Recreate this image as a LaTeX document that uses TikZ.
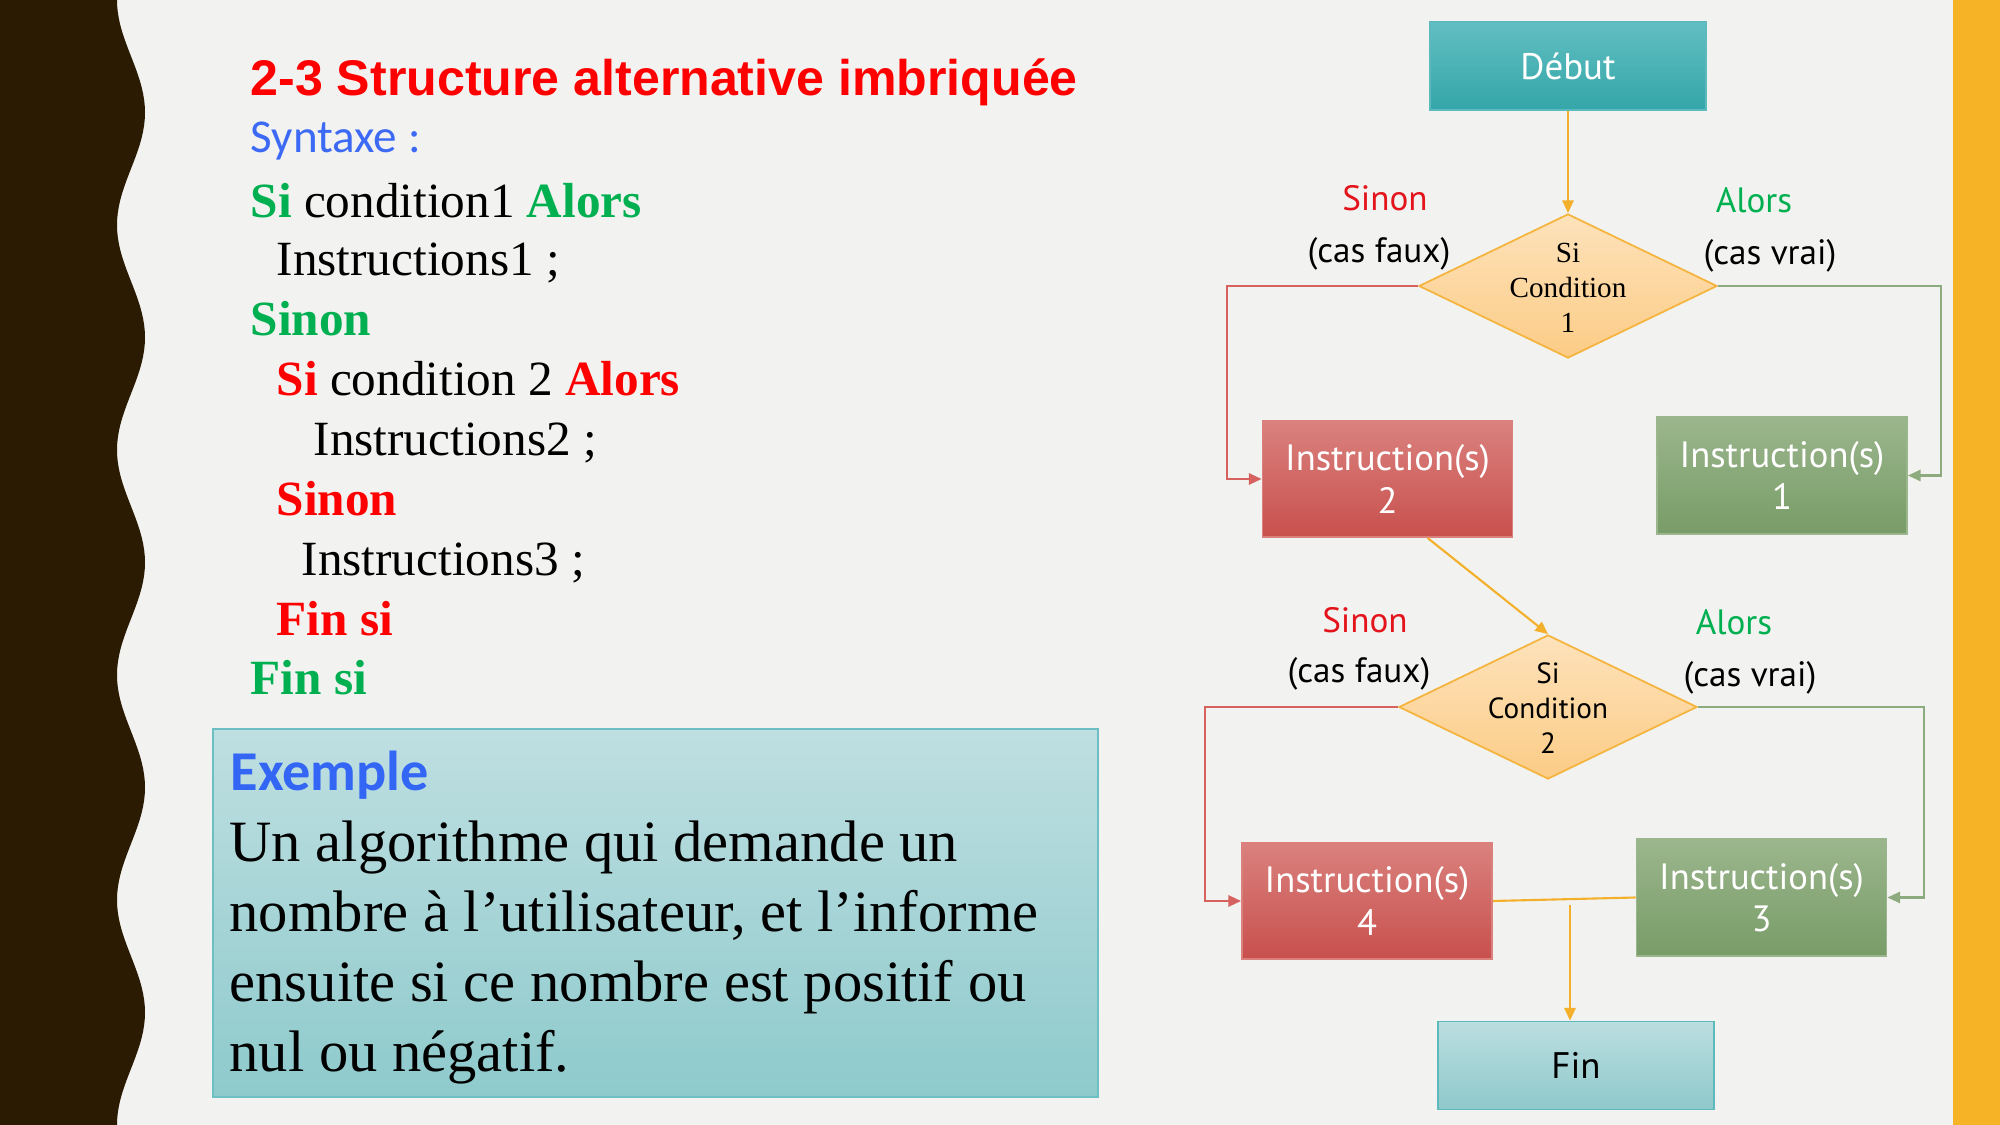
\documentclass[tikz,border=0pt]{standalone}
\usepackage{fontspec}
\setmainfont{Liberation Serif}
\newfontfamily\headfont{Liberation Sans}
\newfontfamily\calfont{Carlito}
\newfontfamily\chartfont{PT Sans}
\usetikzlibrary{shapes.geometric,arrows.meta}

\definecolor{slidebg}{HTML}{F2F2F0}
\definecolor{bandbrown}{HTML}{2A1B02}
\definecolor{bandgold}{HTML}{F5B325}
\definecolor{kwred}{HTML}{FF0000}
\definecolor{kwgreen}{HTML}{00B050}
\definecolor{headblue}{HTML}{3D6AF5}
\definecolor{exblue}{HTML}{3366F5}
\definecolor{labred}{HTML}{E3141B}
\definecolor{tealA}{HTML}{62BEC1}
\definecolor{tealB}{HTML}{33A6A9}
\definecolor{tealline}{HTML}{5CBABD}
\definecolor{diaA}{HTML}{FDE2BB}
\definecolor{diaB}{HTML}{FCCC86}
\definecolor{dialine}{HTML}{F5B43E}
\definecolor{redA}{HTML}{DA817E}
\definecolor{redB}{HTML}{C8504D}
\definecolor{redline}{HTML}{D6625F}
\definecolor{grnA}{HTML}{9BB68D}
\definecolor{grnB}{HTML}{789C67}
\definecolor{grnline}{HTML}{8EAB80}
\definecolor{finA}{HTML}{BBDEE0}
\definecolor{finB}{HTML}{8FC9CB}
\definecolor{exA}{HTML}{BFDFE1}
\definecolor{exB}{HTML}{8ECACC}
\definecolor{exline}{HTML}{6CBFC2}
\definecolor{flow}{HTML}{F4B02A}

\tikzset{
  codeline/.style={anchor=base west, inner sep=0, font=\fontsize{14}{16}\selectfont},
  paraline/.style={anchor=base west, inner sep=0, font=\fontsize{16.65}{19}\selectfont},
  chartbox/.style={rectangle, inner sep=0, line width=0.5pt, align=center,
    font=\chartfont\fontsize{10.4}{12.1}\selectfont},
  termbox/.style={chartbox, minimum width=2.76cm, minimum height=0.88cm},
  falsebox/.style={chartbox, minimum width=2.5cm, minimum height=1.16cm,
    text=white, top color=redA, bottom color=redB, draw=redA},
  truebox/.style={chartbox, minimum width=2.5cm, minimum height=1.17cm,
    text=white, top color=grnA, bottom color=grnB, draw=grnA},
  decision/.style={diamond, inner sep=0, minimum width=2.98cm, minimum height=1.44cm,
    top color=diaA, bottom color=diaB, draw=dialine, line width=0.5pt},
  branchlabel/.style={inner sep=0, font=\chartfont\fontsize{10}{12}\selectfont},
  flowarrow/.style={draw=flow, line width=0.6pt, -{Triangle[length=3.6pt,width=3.2pt]}},
  noarrow/.style={draw=redline, line width=0.6pt, -{Triangle[length=3.6pt,width=3.2pt]}},
  yesarrow/.style={draw=grnline, line width=0.6pt, -{Triangle[length=3.6pt,width=3.2pt]}}
}

\begin{document}
\begin{tikzpicture}[x=0.01cm, y=-0.01cm]
\useasboundingbox (0,0) rectangle (2000,1125);
\fill[slidebg] (0,0) rectangle (2000,1125);

% side bands
\fill[bandbrown] (0,0) -- plot[domain=0:1125, samples=181, variable=\t]
  ({131-14*cos(1.6*\t)}, \t) -- (0,1125) -- cycle;
\fill[bandgold] (1953,0) rectangle (2000,1125);

% heading
\node[anchor=base west, inner sep=0, text=kwred,
  font=\headfont\bfseries\fontsize{14.25}{16}\selectfont] (title) at (250,96)
  {2-3 Structure alternative imbriquée};
\node[anchor=base west, inner sep=0, text=headblue,
  font=\calfont\fontsize{13.4}{16}\selectfont] (syntax) at (250,153)
  {Syntaxe :};

% pseudo-code
\node[codeline] (l1) at (250,217.5) {\textcolor{kwgreen}{\bfseries Si} condition1 \textcolor{kwgreen}{\bfseries Alors}};
\node[codeline] (l2) at (276,276) {Instructions1 ;};
\node[codeline] (l3) at (250,336) {\textcolor{kwgreen}{\bfseries Sinon}};
\node[codeline] (l4) at (276,396) {\textcolor{kwred}{\bfseries Si} condition 2 \textcolor{kwred}{\bfseries Alors}};
\node[codeline] (l5) at (313,456) {Instructions2 ;};
\node[codeline] (l6) at (276,516) {\textcolor{kwred}{\bfseries Sinon}};
\node[codeline] (l7) at (301,576) {Instructions3 ;};
\node[codeline] (l8) at (276,636) {\textcolor{kwred}{\bfseries Fin si}};
\node[codeline] (l9) at (250,695) {\textcolor{kwgreen}{\bfseries Fin si}};

% example panel
\node[rectangle, inner sep=0, minimum width=8.85cm, minimum height=3.68cm,
  top color=exA, bottom color=exB, draw=exline, line width=0.6pt] (expanel) at (655.5,913) {};
\node[anchor=base west, inner sep=0, text=exblue,
  font=\calfont\bfseries\fontsize{16}{19}\selectfont] (exhead) at (230,790.5) {Exemple};
\node[paraline] (p1) at (229,861.5) {Un algorithme qui demande un};
\node[paraline] (p2) at (229,931.5) {nombre à l’utilisateur, et l’informe};
\node[paraline] (p3) at (229,1001.5) {ensuite si ce nombre est positif ou};
\node[paraline] (p4) at (229,1071.5) {nul ou négatif.};

% flowchart nodes
\node[termbox, text=white, top color=tealA, bottom color=tealB, draw=tealline,
  font=\chartfont\fontsize{10.5}{12}\selectfont] (debut) at (1568,66) {Début};
\node[decision] (cond1) at (1568,286) {};
\node[align=center, inner sep=0, font=\fontsize{8.3}{9.96}\selectfont] (cond1txt) at (1568,288)
  {Si\\Condition\\1};
\node[falsebox] (instr2) at (1387.5,479) {Instruction(s)\\2};
\node[truebox] (instr1) at (1782,475.5) {Instruction(s)\\1};
\node[decision] (cond2) at (1548,707) {};
\node[align=center, inner sep=0, font=\chartfont\fontsize{8.3}{9.96}\selectfont] (cond2txt) at (1548,708)
  {Si\\Condition\\2};
\node[falsebox] (instr4) at (1367,901) {Instruction(s)\\4};
\node[truebox] (instr3) at (1761.5,897.5) {Instruction(s)\\3};
\node[termbox, top color=finA, bottom color=finB, draw=tealline,
  font=\chartfont\fontsize{10.5}{12}\selectfont] (fin) at (1576,1065.5) {Fin};

% branch labels
\node[branchlabel, text=labred] (no1) at (1385,198) {Sinon};
\node[branchlabel] (no1b) at (1379,254) {(cas faux)};
\node[branchlabel, text=kwgreen] (yes1) at (1754,200) {Alors};
\node[branchlabel] (yes1b) at (1770,256) {(cas vrai)};
\node[branchlabel, text=labred] (no2) at (1365,620) {Sinon};
\node[branchlabel] (no2b) at (1359,674) {(cas faux)};
\node[branchlabel, text=kwgreen] (yes2) at (1734,622) {Alors};
\node[branchlabel] (yes2b) at (1750,678) {(cas vrai)};

% connectors
\draw[flowarrow] (debut.south) -- (cond1.north);
\draw[noarrow] (cond1.west) -- ++(-191,0) |- (instr2.west);
\draw[yesarrow] (cond1.east) -- ++(223,0) |- (instr1.east);
\draw[flowarrow] ([xshift=0.4cm]instr2.south) -- (cond2.north);
\draw[noarrow] (cond2.west) -- ++(-193,0) |- (instr4.west);
\draw[yesarrow] (cond2.east) -- ++(226,0) |- (instr3.east);
\draw[draw=flow, line width=0.6pt] (instr4.east) -- (instr3.west);
\coordinate (merge) at (1570,905);
\draw[flowarrow] (merge) -- (merge |- fin.north);
\end{tikzpicture}
\end{document}
